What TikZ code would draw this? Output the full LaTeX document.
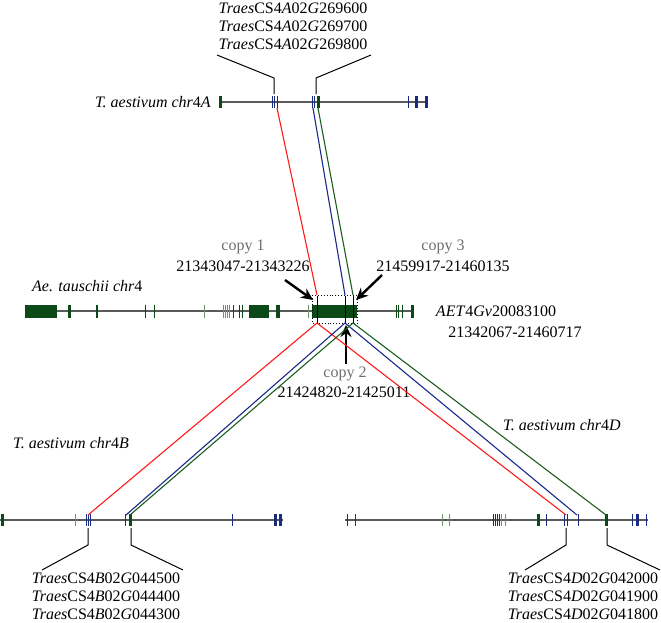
\documentclass[tikz,border=0pt]{standalone}
\usepackage{fontspec}
\setmainfont{Liberation Serif}
\usetikzlibrary{arrows.meta}
\definecolor{dg}{HTML}{0B4A16}
\definecolor{lg}{HTML}{6E946E}
\definecolor{nb}{HTML}{1A2A80}
\definecolor{cr}{HTML}{FF1A1A}
\definecolor{cb}{HTML}{1A2A8A}
\definecolor{cg}{HTML}{1B5E20}
\definecolor{chrline}{HTML}{5A5A5A}
\definecolor{copygray}{HTML}{6E6E6E}
\newcommand\gname[2]{\textit{Traes}CS4\textit{#1}02\textit{G}#2}
\begin{document}
\begin{tikzpicture}[x=1pt,y=-1pt,
  chrom/.style={draw=chrline,line width=1.1pt},
  tkb/.style={draw=nb,line width=1pt},
  tkB/.style={draw=nb,line width=3pt},
  tkg/.style={draw=dg,line width=1pt},
  tkG/.style={draw=dg,line width=3pt},
  tkl/.style={draw=lg,line width=1pt},
  blk/.style={fill=dg},
  lbl/.style={font=\fontsize{16}{18}\selectfont,inner sep=0pt},
  cpy/.style={lbl,text=copygray},
  callout/.style={draw=black,line width=1pt},
  conn/.style={line width=1.1pt},
  bigarrow/.style={draw=black,line width=2.4pt,-{Stealth[length=12pt,width=11pt]}},
]
\useasboundingbox (0,0) rectangle (661,622);

% ---------- chr4A ----------
\draw[chrom] (219,102) -- (428,102);
\foreach \x in {272,274.5,277,312,314,408} \draw[tkb] (\x,96) -- (\x,108);
\draw[tkG] (220,96) -- (220,108);
\draw[tkG] (318,96) -- (318,108);
\draw[tkB] (416.5,96) -- (416.5,108);
\draw[tkB] (426.5,96) -- (426.5,108);
\node[lbl,anchor=east] (l4A) at (211,102) {\textit{T. aestivum chr}4\textit{A}};
\node[lbl,align=center] (gA) at (293,26) {\gname{A}{269600}\\\gname{A}{269700}\\\gname{A}{269800}};
\coordinate (a1) at (274,94); \coordinate (a1b) at (274,78); \coordinate (a1c) at (217,55);
\coordinate (a2) at (316,94); \coordinate (a2b) at (316,78); \coordinate (a2c) at (371,55);
\draw[callout] (a1) -- (a1b) -- (a1c);
\draw[callout] (a2) -- (a2b) -- (a2c);

% ---------- Ae. tauschii chr4 ----------
\draw[chrom] (25,311) -- (413,311);
\fill[blk] (25,304.5) rectangle (57,318);
\fill[blk] (68,304.5) rectangle (71,318);
\fill[blk] (95.5,304.5) rectangle (98,318);
\fill[blk] (249,304.5) rectangle (269,318);
\fill[blk] (276,304.5) rectangle (280,318);
\fill[blk] (312,304.5) rectangle (357,318);
\foreach \x in {145,154,233,239,242,396,398.5,402} \draw[tkg] (\x,304.5) -- (\x,318);
\foreach \x in {204,223,225,227,229,308.5} \draw[tkl] (\x,304.5) -- (\x,318);
\draw[tkG] (412,304.5) -- (412,318);
\foreach \x in {317,345,353} \draw[black,line width=0.9pt] (\x,296) -- (\x,323);
\draw[black,dotted,line width=0.9pt] (312,295) rectangle (357,323);
\node[lbl,anchor=west] (lAe) at (32,286) {\textit{Ae. tauschii chr}4};
\node[lbl] (aet) at (496,311) {\textit{AET}4\textit{Gv}20083100};
\node[lbl] (aetr) at (515,332) {21342067-21460717};
\node[cpy] (c1) at (243,247) {copy 1};
\node[lbl] (c1r) at (243,266) {21343047-21343226};
\node[cpy] (c3) at (443,247) {copy 3};
\node[lbl] (c3r) at (443,266) {21459917-21460135};
\node[cpy] (c2) at (345,374) {copy 2};
\node[lbl] (c2r) at (344,392) {21424820-21425011};
\coordinate (p1t) at (317,295); \coordinate (p2t) at (345,295); \coordinate (p3t) at (353,295);
\coordinate (p1b) at (317,323); \coordinate (p2b) at (345,323); \coordinate (p3b) at (353,323);
\coordinate (ar1s) at (285,280); \coordinate (ar1e) at (313,300);
\coordinate (ar3s) at (382,275); \coordinate (ar3e) at (356,300);
\coordinate (ar2s) at (346,364); \coordinate (ar2e) at (346,325);
\draw[bigarrow] (ar1s) -- (ar1e);
\draw[bigarrow] (ar3s) -- (ar3e);
\draw[bigarrow] (ar2s) -- (ar2e);

% ---------- chr4B ----------
\draw[chrom] (0,520) -- (283,520);
\draw[tkG] (2,514) -- (2,526);
\draw[tkl] (75,514) -- (75,526);
\foreach \x in {86,88,90,125,232} \draw[tkb] (\x,514) -- (\x,526);
\draw[tkG] (130,514) -- (130,526);
\draw[tkB] (275.5,514) -- (275.5,526);
\draw[tkB] (280,514) -- (280,526);
\node[lbl,anchor=west] (l4B) at (13,443) {\textit{T. aestivum chr}4\textit{B}};
\node[lbl,align=center] (gB) at (106,596) {\gname{B}{044500}\\\gname{B}{044400}\\\gname{B}{044300}};
\coordinate (b1) at (88,528); \coordinate (b1b) at (88,545); \coordinate (b1c) at (42,570);
\coordinate (b2) at (131,528); \coordinate (b2b) at (131,545); \coordinate (b2c) at (183,570);
\draw[callout] (b1) -- (b1b) -- (b1c);
\draw[callout] (b2) -- (b2b) -- (b2c);

% ---------- chr4D ----------
\draw[chrom] (345,520) -- (648,520);
\foreach \x in {347,355} \draw[tkg] (\x,514) -- (\x,526);
\foreach \x in {442,449,501,505} \draw[tkl] (\x,514) -- (\x,526);
\foreach \x in {493,495,497,499,546,564,567,578,632,646} \draw[tkb] (\x,514) -- (\x,526);
\draw[tkG] (538.5,514) -- (538.5,526);
\draw[tkG] (606.5,514) -- (606.5,526);
\draw[tkB] (637,514) -- (637,526);
\node[lbl,anchor=west] (l4D) at (503,425) {\textit{T. aestivum chr}4\textit{D}};
\node[lbl,align=center] (gD) at (583,596) {\gname{D}{042000}\\\gname{D}{041900}\\\gname{D}{041800}};
\coordinate (d1) at (566,528); \coordinate (d1b) at (566,545); \coordinate (d1c) at (525,570);
\coordinate (d2) at (607,528); \coordinate (d2b) at (607,545); \coordinate (d2c) at (660,570);
\draw[callout] (d1) -- (d1b) -- (d1c);
\draw[callout] (d2) -- (d2b) -- (d2c);

% ---------- connectors ----------
\coordinate (A1) at (277,108); \coordinate (A2) at (313,108); \coordinate (A3) at (318,108);
\coordinate (B1) at (88,515); \coordinate (B2) at (126,515); \coordinate (B3) at (130,515);
\coordinate (D1) at (566,515); \coordinate (D2) at (577,515); \coordinate (D3) at (606,515);
\draw[conn,cr] (A1) -- (p1t);
\draw[conn,cb] (A2) -- (p2t);
\draw[conn,cg] (A3) -- (p3t);
\draw[conn,cr] (B1) -- (p1b) -- (D1);
\draw[conn,cb] (B2) -- (p2b) -- (D2);
\draw[conn,cg] (B3) -- (p3b) -- (D3);
\end{tikzpicture}
\end{document}
